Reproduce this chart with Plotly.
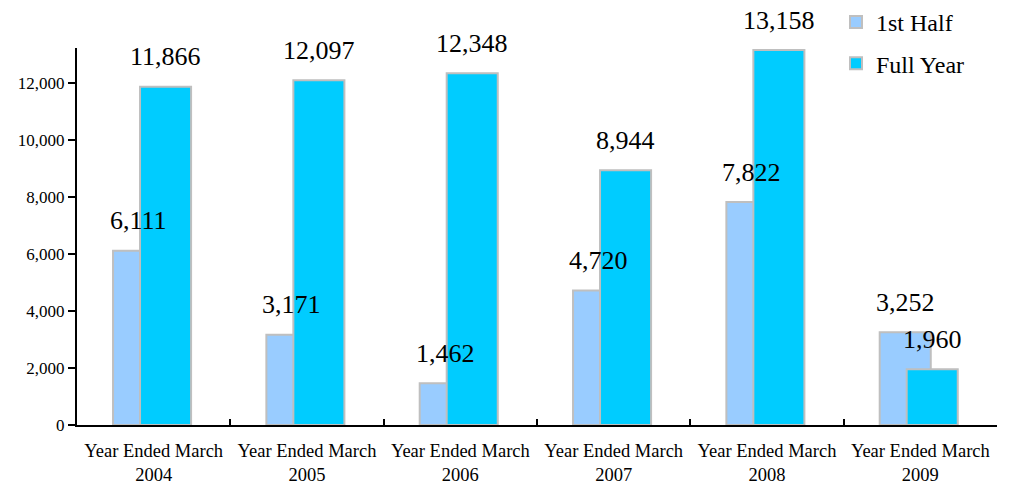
import plotly.graph_objects as go

categories = ["Year Ended March<br>2004", "Year Ended March<br>2005", "Year Ended March<br>2006",
              "Year Ended March<br>2007", "Year Ended March<br>2008", "Year Ended March<br>2009"]
first_half = [6111, 3171, 1462, 4720, 7822, 3252]
full_year = [11866, 12097, 12348, 8944, 13158, 1960]
tick_vals = [0, 2000, 4000, 6000, 8000, 10000, 12000]

FONT = "Liberation Serif"
BAR_W = 0.333
OFF_1 = -0.265
OFF_2 = -0.089

fig = go.Figure()
fig.add_trace(go.Bar(
    name="1st Half", x=categories, y=first_half, width=BAR_W, offset=OFF_1,
    legendgroup="a",
    marker=dict(color="#99CCFF", line=dict(color="#BFBFBF", width=2)),
))
fig.add_trace(go.Bar(
    name="Full Year", x=categories, y=full_year, width=BAR_W, offset=OFF_2,
    legendgroup="b",
    marker=dict(color="#00CCFF", line=dict(color="#BFBFBF", width=2)),
))

annotations = []
for i, v in enumerate(first_half):
    annotations.append(dict(x=i + OFF_1 + BAR_W / 2, y=v, xref="x", yref="y", text=f"{v:,}",
                            showarrow=False, yshift=30, yanchor="middle",
                            font=dict(family=FONT, size=26, color="black")))
for i, v in enumerate(full_year):
    annotations.append(dict(x=i + OFF_2 + BAR_W / 2, y=v, xref="x", yref="y", text=f"{v:,}",
                            showarrow=False, yshift=30, yanchor="middle",
                            font=dict(family=FONT, size=26, color="black")))

fig.update_layout(
    barmode="overlay",
    width=1010, height=484,
    margin=dict(l=77, r=13, t=48, b=59, autoexpand=False),
    paper_bgcolor="white", plot_bgcolor="white",
    font=dict(family=FONT, color="black"),
    hovermode=False,
    showlegend=True,
    legend=dict(x=0.825, y=1.0, yref="container", xanchor="left", yanchor="top",
                font=dict(family=FONT, size=24), tracegroupgap=7, traceorder="grouped",
                bgcolor="rgba(0,0,0,0)", itemwidth=30),
    annotations=annotations,
)
fig.update_xaxes(
    type="category", showline=True, linecolor="black", linewidth=2,
    ticks="inside", tickson="boundaries", ticklen=6, tickcolor="black", tickwidth=2,
    tickfont=dict(family=FONT, size=18.5), showgrid=False, zeroline=False,
    range=[-0.5, 5.5], ticklabelstandoff=8, automargin=False,
)
fig.update_yaxes(
    range=[0, 13230], tickvals=tick_vals, tickformat=",d",
    showline=True, linecolor="black", linewidth=2,
    ticks="outside", ticklen=7, tickcolor="black", tickwidth=2,
    tickfont=dict(family=FONT, size=17), showgrid=False, zeroline=False,
    automargin=False,
)

fig.write_html("out.html", config={"displayModeBar": False},
               post_script="document.body.style.margin='0px';")
